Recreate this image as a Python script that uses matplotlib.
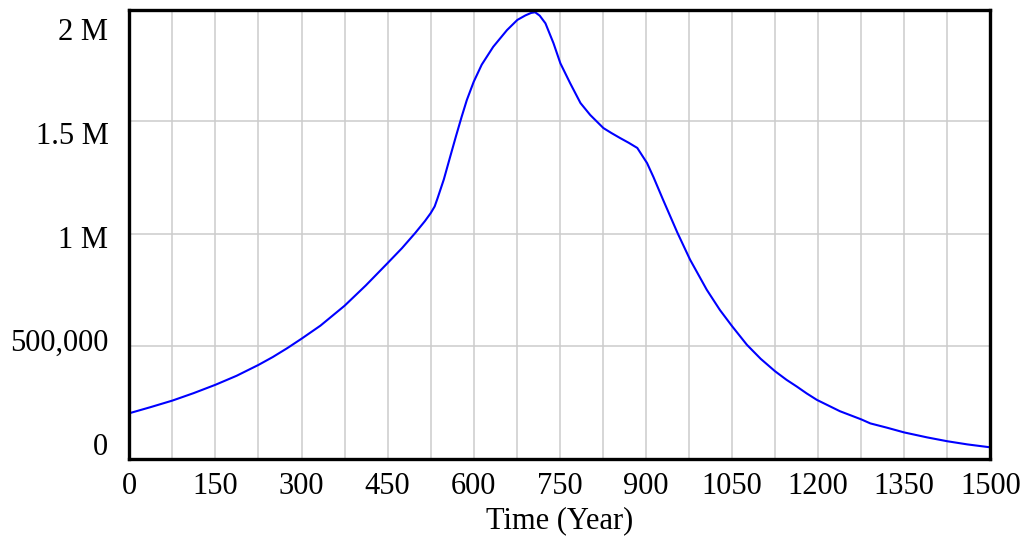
import matplotlib
matplotlib.use("Agg")
import matplotlib.pyplot as plt
import numpy as np
from matplotlib.ticker import MultipleLocator, FixedLocator

# Data (Time in years, value in millions)
years = [0, 37, 75, 112, 150, 187, 225, 250, 275, 300, 333, 375, 412, 450, 475,
         498, 515, 525, 532, 537, 548, 559, 569, 579, 588, 600, 614, 634, 658,
         676, 690, 700, 707, 715, 725, 739, 751, 768, 786, 803, 826, 840, 855,
         870, 885, 902, 913, 930, 955, 977, 1006, 1029, 1050, 1076, 1100, 1125,
         1145, 1163, 1180, 1198, 1238, 1275, 1291, 1320, 1350, 1390, 1425, 1460,
         1500]
values_m = [0.204, 0.231, 0.260, 0.293, 0.330, 0.370, 0.418, 0.453, 0.492, 0.534,
            0.592, 0.680, 0.770, 0.869, 0.935, 1.002, 1.055, 1.090, 1.120, 1.156,
            1.240, 1.340, 1.430, 1.517, 1.591, 1.672, 1.748, 1.827, 1.901, 1.946,
            1.966, 1.977, 1.980, 1.965, 1.931, 1.843, 1.754, 1.666, 1.578, 1.525,
            1.467, 1.445, 1.423, 1.402, 1.379, 1.312, 1.251, 1.149, 1.003, 0.884,
            0.751, 0.661, 0.590, 0.507, 0.445, 0.390, 0.352, 0.322, 0.292, 0.263,
            0.213, 0.177, 0.159, 0.140, 0.119, 0.097, 0.080, 0.066, 0.053]
values = [v * 1e6 for v in values_m]

x_ticks = list(range(0, 1501, 150))
y_tick_labels = ["0", "500,000", "1 M", "1.5 M", "2 M"]

plt.rcParams['font.family'] = ['Liberation Serif', 'DejaVu Serif']
FS = 22

fig = plt.figure(figsize=(10.25, 5.39), dpi=100)
W, H = 1025, 539
left, right, top, bottom = 129.3, 990.3, 10, 459.3
ax = fig.add_axes([left / W, 1 - bottom / H, (right - left) / W, (bottom - top) / H])

ax.plot(years, values, color='#0000ff', lw=1.5)

ax.set_xlim(0, 1500)
ymax = 1.99e6
ax.set_ylim(0, ymax)

ax.xaxis.set_major_locator(FixedLocator(x_ticks))
ax.xaxis.set_minor_locator(MultipleLocator(75))
ax.set_xticklabels([str(t) for t in x_ticks])

# grid lines every 500,000 (minor ticks); labels evenly spaced as in the reference
ax.yaxis.set_minor_locator(FixedLocator([5e5, 1e6, 1.5e6]))
label_px = np.linspace(444, 29, len(y_tick_labels))
label_vals = [(bottom - p) / (bottom - top) * ymax for p in label_px]
ax.yaxis.set_major_locator(FixedLocator(label_vals))
ax.set_yticklabels(y_tick_labels)

ax.grid(which='minor', axis='both', color='#cccccc', lw=1.1)
ax.grid(which='major', axis='x', color='#cccccc', lw=1.1)
ax.grid(which='major', axis='y', visible=False)
ax.set_axisbelow(True)

ax.tick_params(axis='both', which='both', length=0, labelsize=FS)
ax.tick_params(axis='x', pad=9)
ax.tick_params(axis='y', pad=15)

for s in ax.spines.values():
    s.set_linewidth(2.4)
    s.set_color('black')

ax.set_xlabel("Time (Year)", fontsize=FS, labelpad=4)

fig.savefig("out.png", dpi=100)
